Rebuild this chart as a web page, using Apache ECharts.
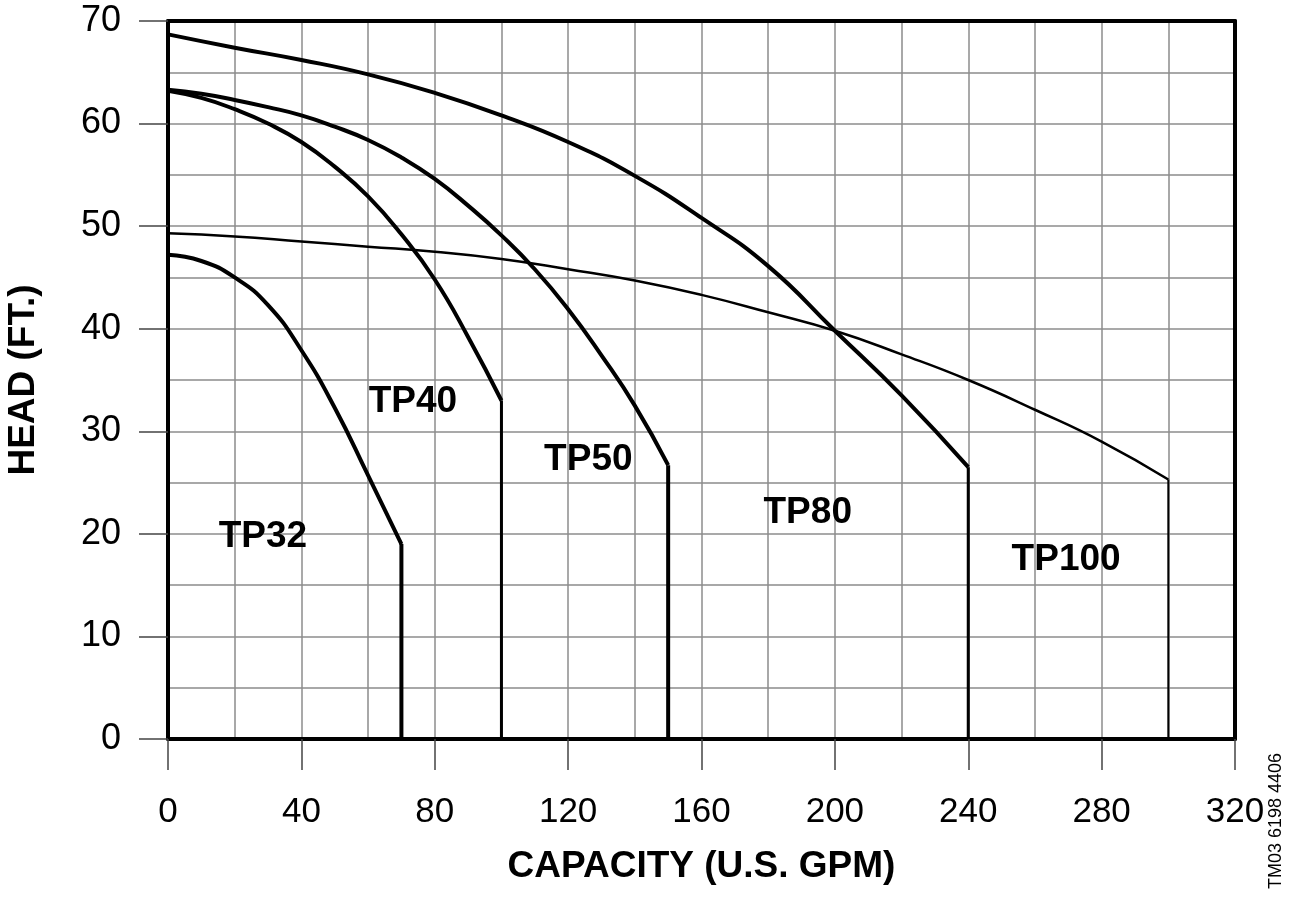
<!DOCTYPE html>
<html>
<head>
<meta charset="utf-8">
<script src="https://cdn.jsdelivr.net/npm/echarts@6/dist/echarts.min.js"></script>
<style>
html,body{margin:0;padding:0;background:#fff;}
#chart{width:1293px;height:898px;}
</style>
</head>
<body>
<div id="chart"></div>
<script>
// ---- data ----
const xTicks = [0, 40, 80, 120, 160, 200, 240, 280, 320];
const yTicks = [0, 10, 20, 30, 40, 50, 60, 70];

const tp32Capacity = [0, 10, 20, 30, 40, 50, 60, 70];
const tp32Head     = [47.2, 46.6, 45.0, 42.3, 37.9, 32.3, 25.7, 19.0];

const tp40Capacity = [0, 10, 20, 30, 40, 50, 60, 70, 80, 90, 100];
const tp40Head     = [63.2, 62.5, 61.4, 60.0, 58.2, 55.8, 52.9, 49.2, 44.8, 39.2, 33.0];

const tp50Capacity = [0, 10, 20, 30, 40, 50, 60, 70, 80, 90, 100, 110, 120, 130, 140, 150];
const tp50Head     = [63.3, 62.9, 62.3, 61.6, 60.8, 59.7, 58.4, 56.7, 54.6, 52.0, 49.1, 45.8, 41.9, 37.4, 32.5, 26.7];

const tp80Capacity = [0, 20, 40, 60, 80, 100, 120, 140, 160, 180, 200, 220, 240];
const tp80Head     = [68.7, 67.4, 66.2, 64.8, 63.0, 60.8, 58.2, 54.9, 50.8, 46.1, 39.8, 33.5, 26.5];

const tp100Capacity = [0, 20, 40, 60, 80, 100, 120, 140, 160, 180, 200, 220, 240, 260, 280, 300];
const tp100Head     = [49.3, 49.0, 48.5, 48.0, 47.5, 46.8, 45.8, 44.7, 43.3, 41.6, 39.8, 37.5, 35.0, 32.1, 29.0, 25.3];

const pumpNames = ['TP32', 'TP40', 'TP50', 'TP80', 'TP100'];
const labelCapacity = [15.2, 60.2, 112.8, 178.6, 253.0];
const labelHead     = [19.7, 32.9, 27.2, 22.1, 17.5];

const figureCode = 'TM03 6198 4406';

// ---- build ----
const pumps = [
  {cap: tp32Capacity, head: tp32Head, w: 4, dw: 4},
  {cap: tp40Capacity, head: tp40Head, w: 4, dw: 3},
  {cap: tp50Capacity, head: tp50Head, w: 4, dw: 4},
  {cap: tp80Capacity, head: tp80Head, w: 4, dw: 3},
  {cap: tp100Capacity, head: tp100Head, w: 2.5, dw: 2}
];

const FONT = '"Liberation Sans", Arial, Helvetica, sans-serif';
const series = [];
pumps.forEach((p, i) => {
  series.push({
    type: 'line', name: pumpNames[i], smooth: 0.5, symbol: 'none',
    data: p.cap.map((c, k) => [c, p.head[k]]),
    lineStyle: {color: '#000', width: p.w}, z: 5
  });
  const last = p.cap.length - 1;
  series.push({
    type: 'line', symbol: 'none',
    data: [[p.cap[last], p.head[last]], [p.cap[last], 0]],
    lineStyle: {color: '#000', width: p.dw}, z: 5
  });
});
series.push({
  type: 'scatter', symbolSize: 0,
  itemStyle: {opacity: 1},
  data: pumpNames.map((n, i) => [labelCapacity[i], labelHead[i], n]),
  label: {
    show: true, position: 'right', distance: 0, opacity: 1,
    formatter: p => p.data[2],
    fontFamily: FONT, fontWeight: 'bold', fontSize: 37, color: '#000'
  },
  z: 6
});

const gridLine = {show: true, showMinLine: false, showMaxLine: false, lineStyle: {color: '#8c8c8c', width: 1.5}};
const minorLine = {show: true, lineStyle: {color: '#8c8c8c', width: 1.5}};

const option = {
  animation: false,
  backgroundColor: '#fff',
  grid: {left: 168, right: 58, top: 21, bottom: 159, show: false, containLabel: false, outerBoundsMode: 'none'},
  xAxis: [{
    type: 'value', min: xTicks[0], max: xTicks[xTicks.length - 1], interval: 40,
    position: 'bottom',
    axisLine: {show: true, onZero: false, lineStyle: {color: '#000', width: 4}},
    axisTick: {show: true, length: 31, lineStyle: {color: '#444', width: 1.5}},
    axisLabel: {margin: 56, fontSize: 35, color: '#000', fontFamily: FONT},
    splitLine: gridLine,
    minorTick: {show: false, splitNumber: 2},
    minorSplitLine: minorLine,
    name: 'CAPACITY (U.S. GPM)', nameLocation: 'middle', nameGap: 109,
    nameTextStyle: {fontSize: 37, fontWeight: 'bold', color: '#000', fontFamily: FONT}
  }, {
    type: 'value', min: xTicks[0], max: xTicks[xTicks.length - 1], interval: 40,
    position: 'top',
    axisLine: {show: true, onZero: false, lineStyle: {color: '#000', width: 4}},
    axisTick: {show: false}, axisLabel: {show: false}, splitLine: {show: false}
  }],
  yAxis: [{
    type: 'value', min: yTicks[0], max: yTicks[yTicks.length - 1], interval: 10,
    position: 'left',
    axisLine: {show: true, onZero: false, lineStyle: {color: '#000', width: 4}},
    axisTick: {show: true, length: 29, lineStyle: {color: '#444', width: 1.5}},
    axisLabel: {margin: 47, fontSize: 36, color: '#000', fontFamily: FONT},
    splitLine: gridLine,
    minorTick: {show: false, splitNumber: 2},
    minorSplitLine: minorLine,
    name: 'HEAD (FT.)', nameLocation: 'middle', nameGap: 126,
    nameTextStyle: {fontSize: 37, fontWeight: 'bold', color: '#000', fontFamily: FONT}
  }, {
    type: 'value', min: yTicks[0], max: yTicks[yTicks.length - 1], interval: 10,
    position: 'right',
    axisLine: {show: true, onZero: false, lineStyle: {color: '#000', width: 4}},
    axisTick: {show: false}, axisLabel: {show: false}, splitLine: {show: false}
  }],
  graphic: [{
    type: 'text', x: 1276, y: 821, rotation: Math.PI / 2,
    style: {text: figureCode, fontSize: 18, fontFamily: FONT, fill: '#000',
            align: 'center', verticalAlign: 'middle'}
  }],
  series: series
};

const chart = echarts.init(document.getElementById('chart'), null, {renderer: 'canvas'});
chart.setOption(option);
</script>
</body>
</html>
